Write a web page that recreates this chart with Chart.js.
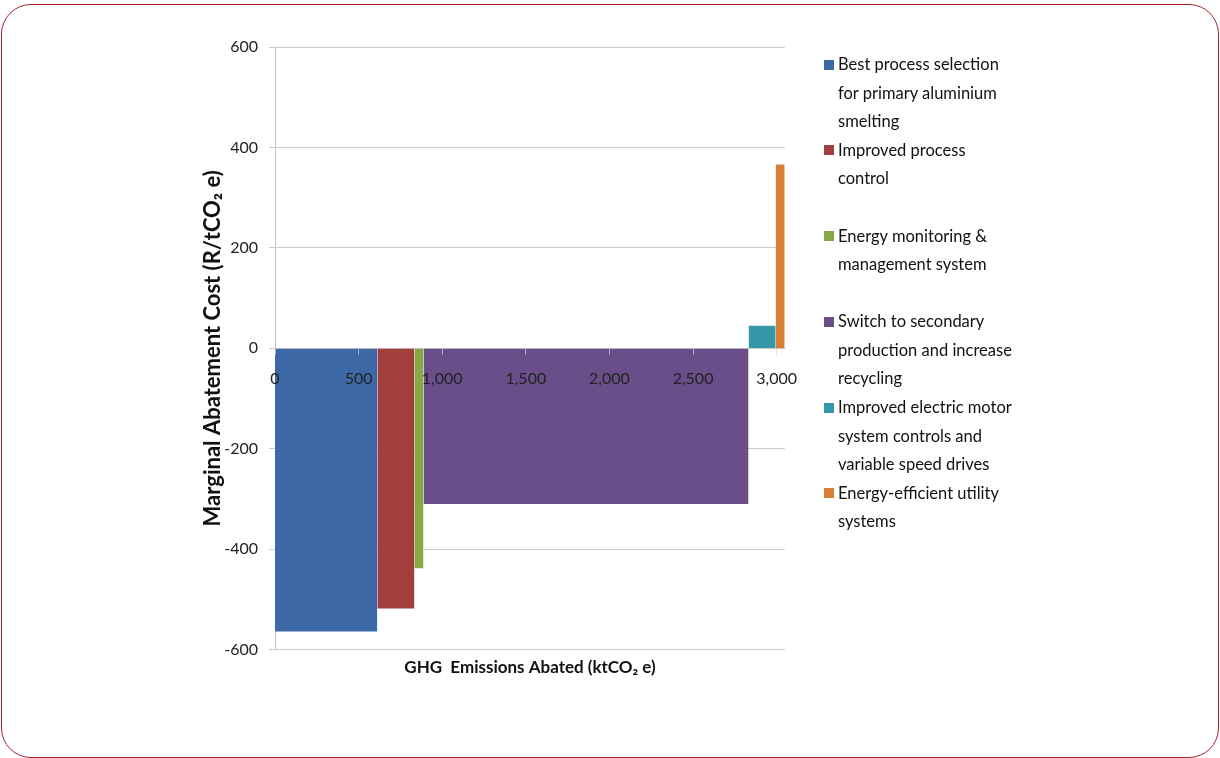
<!DOCTYPE html>
<html>
<head>
<meta charset="utf-8">
<script src="https://cdn.jsdelivr.net/npm/chart.js@4/dist/chart.umd.min.js"></script>
<style>
  html, body { margin: 0; padding: 0; background: #fff; }
  body { width: 1220px; height: 758px; position: relative; overflow: hidden; font-family: Lato, "Open Sans", sans-serif; }
  #frame {
    position: absolute; left: 1px; top: 4px; width: 1218px; height: 754px;
    box-sizing: border-box; border: 1.6px solid #a6262d; border-radius: 30px;
  }
  #chart { position: absolute; left: 0; top: 0; }
  #legend { position: absolute; left: 824px; top: 50px; }
  .item { position: relative; height: 85.8px; }
  .box { position: absolute; left: 0; top: 9.5px; width: 10px; height: 10px; }
  .txt { position: absolute; left: 14px; top: 0; font-size: 16.5px; line-height: 28.5px; color: #111; white-space: nowrap; }
</style>
</head>
<body>
<div id="frame"></div>
<canvas id="chart" width="1220" height="758"></canvas>
<div id="legend"></div>
<script>
// Abatement measures (legend text, one entry per line)
const measures = [
  ["Best process selection", "for primary aluminium", "smelting"],
  ["Improved process", "control"],
  ["Energy monitoring &", "management system"],
  ["Switch to secondary", "production and increase", "recycling"],
  ["Improved electric motor", "system controls and", "variable speed drives"],
  ["Energy-efficient utility", "systems"]
];
// Emissions abated by each measure (ktCO2 e) - bar widths
const abated = [612, 222, 54, 1944, 162, 54];
// Marginal abatement cost (R/tCO2 e) - bar heights
const cost = [-564, -518, -438, -310, 45, 366];
const colors = ["#3c69a6", "#a23f3d", "#86a845", "#6a4e8a", "#3896ab", "#d97f34"];

// Axis ranges and tick values
const xRange = [0, 3050];
const xTicks = [0, 500, 1000, 1500, 2000, 2500, 3000];
const yRange = [-600, 600];
const yTicks = [-600, -400, -200, 0, 200, 400, 600];

const FONT = "Lato, 'Open Sans', sans-serif";

// Each measure becomes a filled step from its cumulative start to end
let start = 0;
const datasets = measures.map((m, i) => {
  const x0 = start, x1 = start + abated[i];
  start = x1;
  return {
    label: m.join(" "),
    data: [{ x: x0, y: cost[i] }, { x: x1, y: cost[i] }],
    showLine: true,
    fill: "origin",
    backgroundColor: colors[i],
    borderColor: colors[i],
    borderWidth: 0,
    pointRadius: 0,
    pointHoverRadius: 0,
    tension: 0
  };
});

new Chart(document.getElementById("chart"), {
  type: "scatter",
  data: { datasets },
  options: {
    responsive: false,
    animation: false,
    events: [],
    layout: { padding: { left: 196, top: 47, right: 435, bottom: 80 } },
    plugins: {
      legend: { display: false },
      tooltip: { enabled: false },
      title: {
        display: true,
        text: "GHG  Emissions Abated (ktCO\u2082 e)",
        position: "bottom",
        fullSize: false,
        color: "#111",
        font: { family: FONT, size: 17, weight: "bold" },
        padding: { top: 8, bottom: 0 }
      }
    },
    scales: {
      x: {
        type: "linear",
        position: { y: 0 },
        min: xRange[0],
        max: xRange[1],
        afterBuildTicks(scale) { scale.ticks = xTicks.map(v => ({ value: v })); },
        ticks: {
          z: 1,
          autoSkip: false,
          color: "#222",
          padding: 15,
          font: { family: FONT, size: 16 },
          callback: v => v.toLocaleString("en-US")
        },
        grid: { z: 1, drawOnChartArea: false, drawTicks: true, tickLength: 6, color: "rgba(205,205,205,0.7)" },
        border: { z: 1, color: "rgba(205,205,205,0.7)" }
      },
      y: {
        min: yRange[0],
        max: yRange[1],
        afterBuildTicks(scale) { scale.ticks = yTicks.map(v => ({ value: v })); },
        ticks: {
          color: "#222",
          padding: 11,
          font: { family: FONT, size: 16 }
        },
        grid: { color: "#cccccc", tickLength: 6 },
        border: { color: "#c4c4c4" },
        title: {
          display: true,
          text: "Marginal Abatement Cost (R/tCO\u2082 e)",
          color: "#111",
          font: { family: FONT, size: 22, weight: "bold" },
          padding: { top: 4, bottom: 4 }
        },
        afterFit(scale) { scale.width = 79; }
      }
    }
  }
});

// Legend: one slot per measure, square swatch plus wrapped label
const legend = document.getElementById("legend");
measures.forEach((lines, i) => {
  const item = document.createElement("div");
  item.className = "item";
  const box = document.createElement("div");
  box.className = "box";
  box.style.background = colors[i];
  const txt = document.createElement("div");
  txt.className = "txt";
  txt.innerHTML = lines.join("<br>");
  item.appendChild(box);
  item.appendChild(txt);
  legend.appendChild(item);
});
</script>
</body>
</html>
